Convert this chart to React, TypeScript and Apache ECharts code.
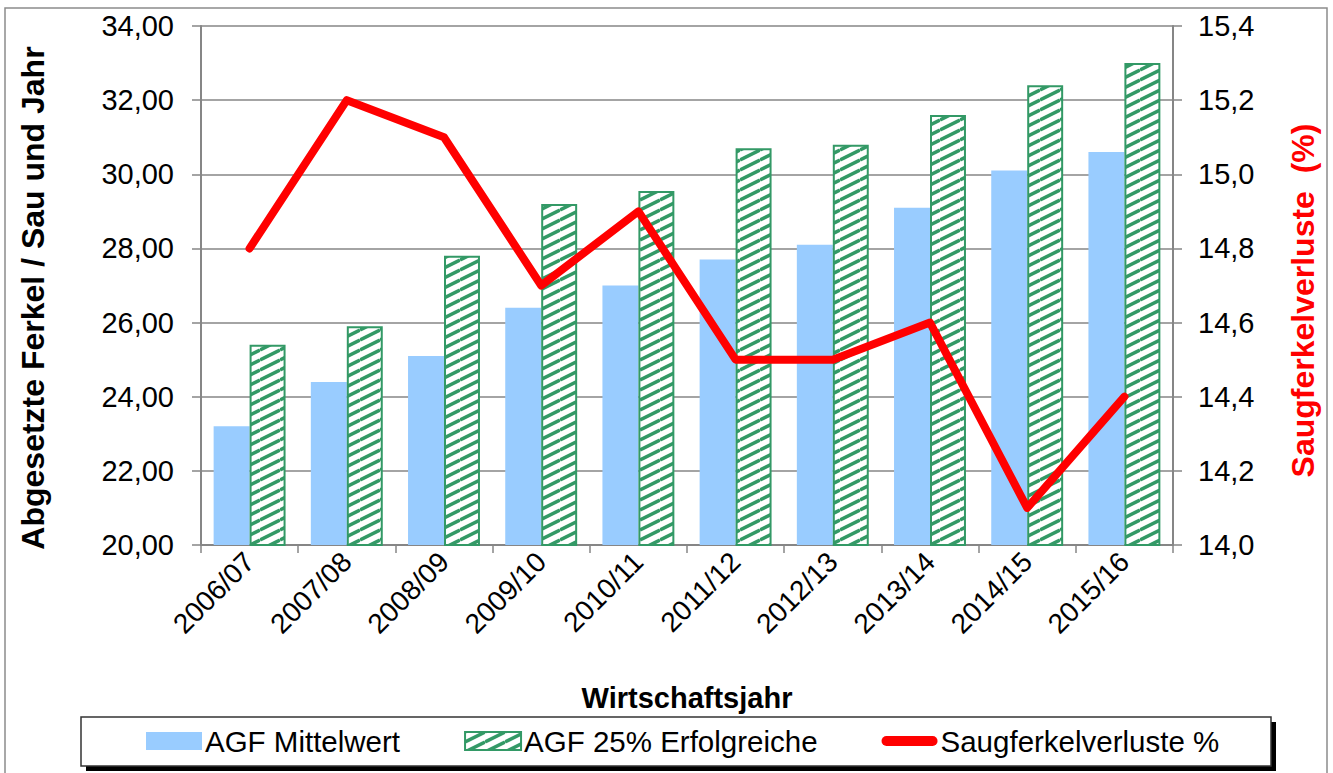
import React, { useEffect, useRef } from "react";
import * as echarts from "echarts";

const categories = ["2006/07", "2007/08", "2008/09", "2009/10", "2010/11", "2011/12", "2012/13", "2013/14", "2014/15", "2015/16"];
const agfMittelwert = [23.2, 24.4, 25.1, 26.4, 27.0, 27.7, 28.1, 29.1, 30.1, 30.6];
const agfTop25 = [25.4, 25.9, 27.8, 29.2, 29.55, 30.7, 30.8, 31.6, 32.4, 33.0];
const saugferkelverluste = [14.8, 15.2, 15.1, 14.7, 14.9, 14.5, 14.5, 14.6, 14.1, 14.4];
const leftAxis = { min: 20, max: 34, interval: 2 };
const rightAxis = { min: 14, max: 15.4, interval: 0.2 };
const seriesNames = ["AGF Mittelwert", "AGF 25% Erfolgreiche", "Saugferkelverluste %"];

const FONT = "'Liberation Sans', Arial, sans-serif";
const GREEN = "#339966";
const BLUE = "#99CCFF";

function makeHatch(): HTMLCanvasElement {
  const c = document.createElement("canvas");
  c.width = 20;
  c.height = 10;
  const ctx = c.getContext("2d")!;
  ctx.fillStyle = "#ffffff";
  ctx.fillRect(0, 0, 20, 10);
  ctx.strokeStyle = GREEN;
  ctx.lineWidth = 3.5;
  const lines = [
    [0, 10, 20, 0],
    [0, 0, 20, -10],
    [0, 20, 20, 10],
  ];
  for (const [x1, y1, x2, y2] of lines) {
    ctx.beginPath();
    ctx.moveTo(x1, y1);
    ctx.lineTo(x2, y2);
    ctx.stroke();
  }
  return c;
}

export default function App() {
  const ref = useRef<HTMLDivElement>(null);
  useEffect(() => {
    if (!ref.current) return;
    const chart = echarts.init(ref.current, undefined, { renderer: "svg" });
    const hatch = makeHatch();
    const axisLineStyle = { color: "#868686", width: 2 };
    chart.setOption({
      animation: false,
      backgroundColor: "#ffffff",
      textStyle: { fontFamily: FONT },
      grid: { left: 201, right: 160, top: 26, bottom: 228 },
      graphic: [
        { type: "rect", z: -10, shape: { x: 5, y: 8, width: 1322, height: 800 }, style: { fill: "none", stroke: "#8c8c8c", lineWidth: 1.5 } },
        { type: "rect", z: -5, shape: { x: 86, y: 722, width: 1190, height: 49 }, style: { fill: "#000000" } },
        { type: "rect", z: -4, shape: { x: 81, y: 717, width: 1190, height: 49 }, style: { fill: "#ffffff", stroke: "#333333", lineWidth: 1.5 } },
      ],
      legend: {
        left: 141,
        top: 721,
        itemWidth: 56,
        itemHeight: 18,
        itemGap: 64,
        textStyle: { fontSize: 29.5, color: "#000000", fontFamily: FONT, padding: [0, 0, 0, -2] },
        data: [
          { name: seriesNames[0], icon: "rect" },
          { name: seriesNames[1], icon: "rect" },
          { name: seriesNames[2], icon: "path://M5.5,0 L56.5,0 A5.5,5.5 0 0 1 56.5,11 L5.5,11 A5.5,5.5 0 0 1 5.5,0 Z" },
        ],
      },
      xAxis: {
        type: "category",
        data: categories,
        name: "Wirtschaftsjahr",
        nameLocation: "middle",
        nameGap: 138,
        nameTextStyle: { fontSize: 29, fontWeight: "bold", color: "#000000" },
        axisLine: { lineStyle: axisLineStyle },
        axisTick: { show: true, length: 8, lineStyle: { color: "#868686", width: 1.5 } },
        axisLabel: { rotate: 45, fontSize: 28, color: "#000000", margin: 12, interval: 0 },
      },
      yAxis: [
        {
          type: "value",
          min: leftAxis.min,
          max: leftAxis.max,
          interval: leftAxis.interval,
          name: "Abgesetzte Ferkel / Sau und Jahr",
          nameLocation: "middle",
          nameRotate: 90,
          nameGap: 152,
          nameTextStyle: { fontSize: 32, fontWeight: "bold", color: "#000000", padding: [0, 25, 0, 0] },
          axisLine: { show: true, lineStyle: axisLineStyle },
          axisTick: { show: true, length: 9, lineStyle: { color: "#868686", width: 1.5 } },
          splitLine: { show: true, lineStyle: { color: "#868686", width: 1.5 } },
          axisLabel: { fontSize: 29, color: "#000000", margin: 27, formatter: (v: number) => v.toFixed(2).replace(".", ",") },
        },
        {
          type: "value",
          min: rightAxis.min,
          max: rightAxis.max,
          interval: rightAxis.interval,
          name: "Saugferkelverluste  (%)",
          nameLocation: "middle",
          nameRotate: 90,
          nameGap: 114,
          nameTextStyle: { fontSize: 32, fontWeight: "bold", color: "#ff0000", padding: [0, 30, 0, 0] },
          axisLine: { show: true, lineStyle: axisLineStyle },
          axisTick: { show: true, length: 9, lineStyle: { color: "#868686", width: 1.5 } },
          splitLine: { show: false },
          axisLabel: { fontSize: 29, color: "#000000", margin: 25, formatter: (v: number) => v.toFixed(1).replace(".", ",") },
        },
      ],
      series: [
        {
          name: seriesNames[0],
          type: "bar",
          yAxisIndex: 0,
          data: agfMittelwert,
          barGap: "0%",
          barCategoryGap: "26%",
          itemStyle: { color: BLUE },
        },
        {
          name: seriesNames[1],
          type: "bar",
          yAxisIndex: 0,
          data: agfTop25,
          itemStyle: { color: { image: hatch, repeat: "repeat" } as any, borderColor: GREEN, borderWidth: 2 },
        },
        {
          name: seriesNames[2],
          type: "line",
          yAxisIndex: 1,
          data: saugferkelverluste,
          symbol: "none",
          lineStyle: { color: "#ff0000", width: 8, cap: "round", join: "round" },
          itemStyle: { color: "#ff0000" },
          z: 5,
        },
      ],
    });
    return () => chart.dispose();
  }, []);
  return <div ref={ref} style={{ position: "fixed", left: 0, top: 0, width: 1333, height: 773 }} />;
}
